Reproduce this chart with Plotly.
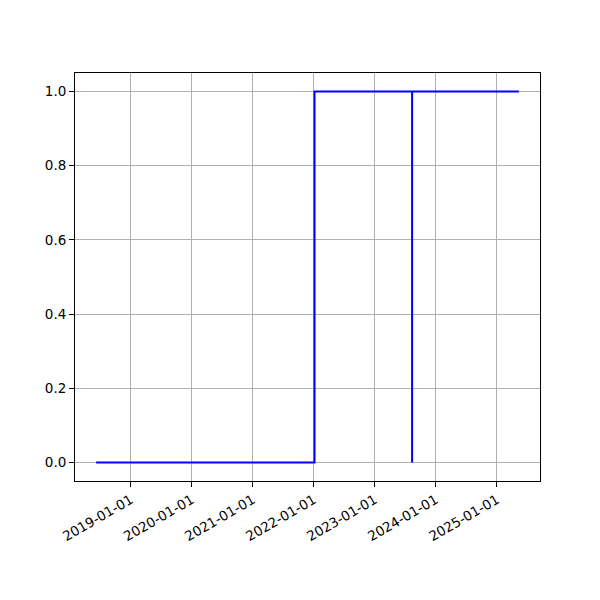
import plotly.graph_objects as go
import pandas as pd

dates = ["2018-06-08", "2022-01-05", "2023-08-12", "2023-08-12", "2025-05-12"]
values = [0, 1, 0, 1, 1]
x_ticks = ["2019-01-01", "2020-01-01", "2021-01-01", "2022-01-01",
           "2023-01-01", "2024-01-01", "2025-01-01"]
y_ticks = [0.0, 0.2, 0.4, 0.6, 0.8, 1.0]

d = pd.to_datetime(dates)
span = d.max() - d.min()
xr = [d.min() - span * 0.05, d.max() + span * 0.05]

fig = go.Figure()
fig.add_trace(go.Scatter(x=dates, y=values, mode="lines", line_shape="hv",
                         line=dict(color="blue", width=2), showlegend=False))

axis_common = dict(showline=True, linecolor="black", linewidth=1, mirror=True,
                   ticks="outside", ticklen=5, tickcolor="black", tickwidth=1,
                   showgrid=True, gridcolor="#b0b0b0", gridwidth=1, zeroline=False)

fig.update_xaxes(range=xr, tickvals=x_ticks, ticktext=x_ticks, tickangle=-30,
                 automargin=False, **axis_common)
fig.update_yaxes(range=[-0.05, 1.05], tickvals=y_ticks, automargin=False,
                 ticktext=[f"{v:.1f}" for v in y_ticks], **axis_common)

fig.update_layout(width=600, height=600, plot_bgcolor="white", paper_bgcolor="white",
                  margin=dict(l=67, r=68, t=65, b=127),
                  font=dict(family="DejaVu Sans", size=13.5, color="black"))

fig.write_html("out.html")
